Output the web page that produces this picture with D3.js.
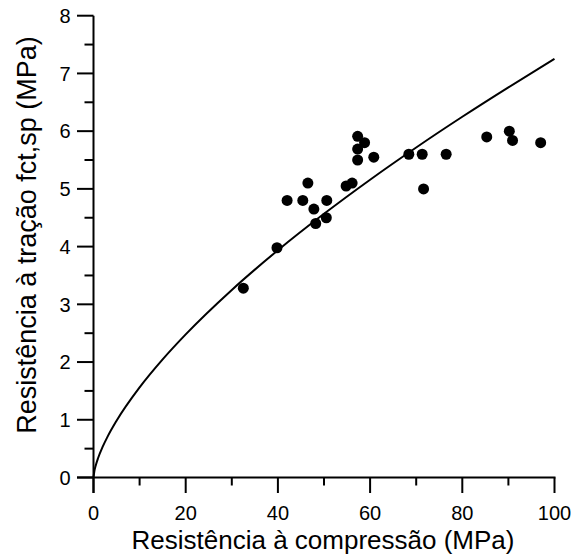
<!DOCTYPE html>
<html>
<head>
<meta charset="utf-8">
<script src="https://cdn.jsdelivr.net/npm/d3@7"></script>
<style>
html,body{margin:0;padding:0;background:#fff;}
svg{display:block;font-family:"Liberation Sans",Arial,sans-serif;}
</style>
</head>
<body>
<svg id="chart" width="573" height="556"></svg>
<script>
// Measured points: compressive strength (MPa) vs splitting tensile strength (MPa)
const compressao = [32.5, 39.8, 42.0, 45.4, 46.5, 47.8, 48.2, 50.6, 50.5, 54.8, 56.1, 57.3, 58.8, 57.3, 57.3, 60.8, 68.4, 71.3, 71.6, 76.5, 85.3, 90.2, 90.9, 97.0];
const tracao     = [3.28, 3.98, 4.80, 4.80, 5.10, 4.65, 4.40, 4.80, 4.50, 5.05, 5.10, 5.91, 5.80, 5.69, 5.50, 5.55, 5.60, 5.60, 5.00, 5.60, 5.90, 6.00, 5.84, 5.80];

// Reference curve
const curvaX = [0, 0.2, 0.5, 1, 2, 3, 5, 10, 15, 20, 30, 40, 50, 60, 70, 80, 90, 100];
const curvaY = [0, 0.115, 0.212, 0.337, 0.534, 0.700, 0.984, 1.562, 2.047, 2.480, 3.250, 3.937, 4.568, 5.159, 5.717, 6.249, 6.759, 7.252];

const xTicks = [0, 20, 40, 60, 80, 100];
const xMinor = [10, 30, 50, 70, 90];
const yTicks = [0, 1, 2, 3, 4, 5, 6, 7, 8];
const yMinor = [0.5, 1.5, 2.5, 3.5, 4.5, 5.5, 6.5, 7.5];

const xLabel = "Resistência à compressão (MPa)";
const yLabel = "Resistência à tração fct,sp (MPa)";

const svg = d3.select("#chart");
const x = d3.scaleLinear().domain([0, 100]).range([93.5, 554.5]);
const y = d3.scaleLinear().domain([0, 8]).range([477.5, 15.7]);

// Y axis
const yAxis = svg.append("g").attr("transform", `translate(${x(0)},0)`);
yAxis.append("line").attr("y1", y(8)).attr("y2", y(0) + 15.5)
  .attr("stroke", "#000").attr("stroke-width", 2);
yAxis.selectAll(".maj").data(yTicks).join("line")
  .attr("x1", -16.5).attr("x2", 0).attr("y1", d => y(d)).attr("y2", d => y(d))
  .attr("stroke", "#000").attr("stroke-width", 2);
yAxis.selectAll(".min").data(yMinor).join("line").attr("class","min")
  .attr("x1", -9).attr("x2", 0).attr("y1", d => y(d)).attr("y2", d => y(d))
  .attr("stroke", "#000").attr("stroke-width", 2);
yAxis.selectAll("text").data(yTicks).join("text")
  .attr("x", -23).attr("y", d => y(d)).attr("dy", "0.36em")
  .attr("text-anchor", "end").attr("font-size", 20).text(d => d);

// X axis
const xAxis = svg.append("g").attr("transform", `translate(0,${y(0)})`);
xAxis.append("line").attr("x1", x(0) - 16.5).attr("x2", x(100) + 1)
  .attr("stroke", "#000").attr("stroke-width", 2);
xAxis.selectAll(".maj").data(xTicks).join("line").attr("class","maj")
  .attr("x1", d => x(d)).attr("x2", d => x(d)).attr("y1", 0).attr("y2", 15.5)
  .attr("stroke", "#000").attr("stroke-width", 2);
xAxis.selectAll(".min").data(xMinor).join("line").attr("class","min")
  .attr("x1", d => x(d)).attr("x2", d => x(d)).attr("y1", 0).attr("y2", 8)
  .attr("stroke", "#000").attr("stroke-width", 2);
xAxis.selectAll("text").data(xTicks).join("text")
  .attr("x", d => x(d)).attr("y", 42.5)
  .attr("text-anchor", "middle").attr("font-size", 20).text(d => d);

// Titles
svg.append("text").attr("x", 323).attr("y", 549)
  .attr("text-anchor", "middle").attr("font-size", 26).text(xLabel);
svg.append("text").attr("transform", `translate(36,235) rotate(-90)`)
  .attr("text-anchor", "middle").attr("font-size", 27).text(yLabel);

// Curve
const curve = curvaX.map((v, i) => [v, curvaY[i]]);
svg.append("path").datum(curve)
  .attr("fill", "none").attr("stroke", "#000").attr("stroke-width", 2)
  .attr("d", d3.line().x(d => x(d[0])).y(d => y(d[1])).curve(d3.curveMonotoneX));

// Points
svg.selectAll("circle.pt").data(compressao.map((v, i) => [v, tracao[i]])).join("circle")
  .attr("class", "pt").attr("cx", d => x(d[0])).attr("cy", d => y(d[1])).attr("r", 5.5)
  .attr("fill", "#000");
</script>
</body>
</html>
